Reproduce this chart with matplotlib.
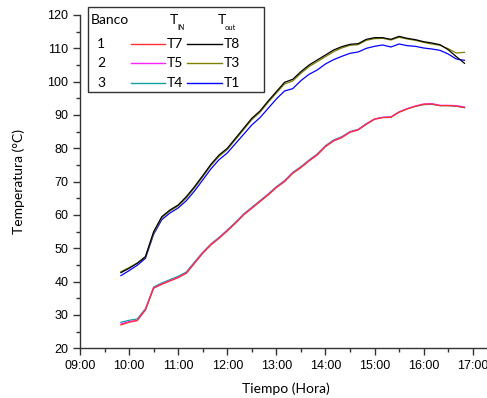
import numpy as np
import matplotlib
matplotlib.use('Agg')
import matplotlib.pyplot as plt
from matplotlib.lines import Line2D
from matplotlib.patches import Rectangle

W, H = 487, 398

# time of each reading, hours (9:50 .. 16:50 every 10 min)
hours = [9 + 50/60 + i * 10/60 for i in range(43)]

# T_out series
t8 = [42.7, 44.0, 45.5, 47.5, 55.0, 59.5, 61.5, 63.0, 65.5, 68.5,
      71.8, 75.2, 78.0, 80.0, 83.0, 86.0, 89.0, 91.2, 94.2, 97.0,
      99.8, 100.7, 103.0, 105.0, 106.5, 108.0, 109.5, 110.5, 111.2, 111.4,
      112.7, 113.2, 113.2, 112.7, 113.6, 113.0, 112.6, 112.0, 111.6, 111.1,
      109.6, 107.5, 105.5]
t3 = [43.0, 44.2, 45.6, 47.4, 54.6, 59.2, 61.2, 62.7, 65.1, 68.1,
      71.4, 74.8, 77.6, 79.6, 82.6, 85.6, 88.6, 90.8, 93.8, 96.6,
      99.3, 100.2, 102.5, 104.5, 106.0, 107.5, 109.0, 110.1, 110.9, 111.1,
      112.4, 112.9, 113.0, 112.5, 113.3, 112.8, 112.4, 111.8, 111.3, 110.9,
      109.9, 108.6, 108.8]
t1 = [41.8, 43.3, 44.9, 47.0, 54.2, 58.6, 60.6, 62.1, 64.3, 67.2,
      70.5, 73.8, 76.6, 78.6, 81.4, 84.2, 87.0, 89.2, 92.0, 94.8,
      97.2, 97.9, 100.3, 102.2, 103.5, 105.3, 106.6, 107.6, 108.5, 108.9,
      110.0, 110.6, 111.0, 110.4, 111.3, 110.8, 110.6, 110.1, 109.8, 109.4,
      108.3, 106.8, 106.4]

# T_IN series
t7 = [27.0, 27.8, 28.3, 31.5, 38.0, 39.2, 40.2, 41.2, 42.5, 45.5,
      48.5, 51.0, 53.0, 55.2, 57.5, 60.0, 62.0, 64.0, 66.0, 68.2,
      70.0, 72.5, 74.2, 76.2, 78.0, 80.5, 82.2, 83.2, 84.8, 85.5,
      87.2, 88.7, 89.2, 89.3, 90.8, 91.8, 92.6, 93.2, 93.3, 92.8,
      92.8, 92.7, 92.2]
t5 = [27.3, 28.0, 28.4, 31.6, 38.1, 39.3, 40.3, 41.3, 42.6, 45.6,
      48.6, 51.1, 53.1, 55.3, 57.6, 60.1, 62.1, 64.1, 66.1, 68.3,
      70.1, 72.6, 74.3, 76.3, 78.1, 80.6, 82.3, 83.3, 84.9, 85.6,
      87.3, 88.8, 89.3, 89.4, 90.9, 91.9, 92.7, 93.3, 93.4, 92.9,
      92.9, 92.8, 92.4]
t4 = [27.8, 28.4, 28.8, 31.9, 38.4, 39.6, 40.6, 41.6, 42.9, 45.9,
      48.8, 51.3, 53.3, 55.5, 57.8, 60.3, 62.3, 64.3, 66.3, 68.5,
      70.3, 72.8, 74.5, 76.5, 78.3, 80.8, 82.5, 83.5, 85.0, 85.7,
      87.4, 88.8, 89.3, 89.4, 90.9, 91.9, 92.6, 93.1, 93.2, 92.8,
      92.8, 92.6, 92.2]

x_ticks = list(range(9, 18))
x_labels = [f'{h:02d}:00' for h in x_ticks]

COLORS = {'T7': '#ff3030', 'T5': '#ff20ff', 'T4': '#10a0a0',
          'T8': '#000000', 'T3': '#808000', 'T1': '#0000ff'}

TICK_FONT = 'Liberation Sans'
LABEL_FONT = 'Lato'


def px(x, y):
    """pixel position (from top-left) -> figure fraction."""
    return x / W, 1 - y / H


fig = plt.figure(figsize=(W / 100, H / 100), dpi=100)
left, bottom = px(80, 348.3)
hour_px = (472.7 - 80) / 8
ax = fig.add_axes([left, bottom, 8.5 * hour_px / W, 333.3 / H])

series = [('T7', t7), ('T5', t5), ('T4', t4), ('T8', t8), ('T3', t3), ('T1', t1)]
for name, vals in series[::-1]:
    ax.plot(hours, vals, color=COLORS[name], lw=0.9)

ax.set_xlim(9, 17.5)
ax.set_ylim(20, 120)
ax.set_xticks(x_ticks)
ax.set_xticklabels(x_labels)
ax.set_xticks([h + 0.5 for h in x_ticks], minor=True)
ax.set_yticks(range(20, 121, 10))
ax.set_yticks(range(25, 120, 10), minor=True)
for s in ['top', 'right']:
    ax.spines[s].set_visible(False)
for s in ['left', 'bottom']:
    ax.spines[s].set_linewidth(1.0)
    ax.spines[s].set_color('#333333')
ax.tick_params(which='major', direction='out', length=5, width=1, color='#333333',
               labelsize=9)
ax.tick_params(which='minor', direction='out', length=3, width=1, color='#333333')
for lab in ax.get_xticklabels() + ax.get_yticklabels():
    lab.set_fontfamily(TICK_FONT)

fig.text(*px(286, 389), 'Tiempo (Hora)', family=LABEL_FONT, fontsize=10,
         ha='center', va='center')
fig.text(*px(19, 182), 'Temperatura (°C)', family=LABEL_FONT, fontsize=10,
         ha='center', va='center', rotation=90)

# legend box drawn by hand (table layout: Banco / T_IN / T_out)
l0, t0 = px(88, 7.3)
l1, t1_ = px(264, 91.7)
fig.add_artist(Rectangle((l0, t1_), l1 - l0, t0 - t1_, transform=fig.transFigure,
                         fill=False, lw=1.0, ec='#333333'))
fig.text(*px(91, 20), 'Banco', family=LABEL_FONT, fontsize=10, va='center')
fig.text(*px(170, 20), 'T', family=LABEL_FONT, fontsize=10, va='center')
fig.text(*px(177, 27), 'IN', family=LABEL_FONT, fontsize=5, va='center')
fig.text(*px(218, 20), 'T', family=LABEL_FONT, fontsize=10, va='center')
fig.text(*px(225, 27), 'out', family=LABEL_FONT, fontsize=5.5, va='center')

rows = [('1', 'T7', 'T8', 44), ('2', 'T5', 'T3', 63), ('3', 'T4', 'T1', 83)]
for banco, tin, tout, yy in rows:
    fig.text(*px(97, yy), banco, family=LABEL_FONT, fontsize=10, va='center')
    for (x0, x1), name in [((131, 165), tin), ((187, 222), tout)]:
        a, b = px(x0, yy)
        c, _ = px(x1, yy)
        fig.add_artist(Line2D([a, c], [b, b], transform=fig.transFigure,
                              color=COLORS[name], lw=1.0))
        fig.text(*px(x1 + 1.5, yy), name, family=LABEL_FONT, fontsize=10, va='center')

fig.savefig('out.png', dpi=100)
